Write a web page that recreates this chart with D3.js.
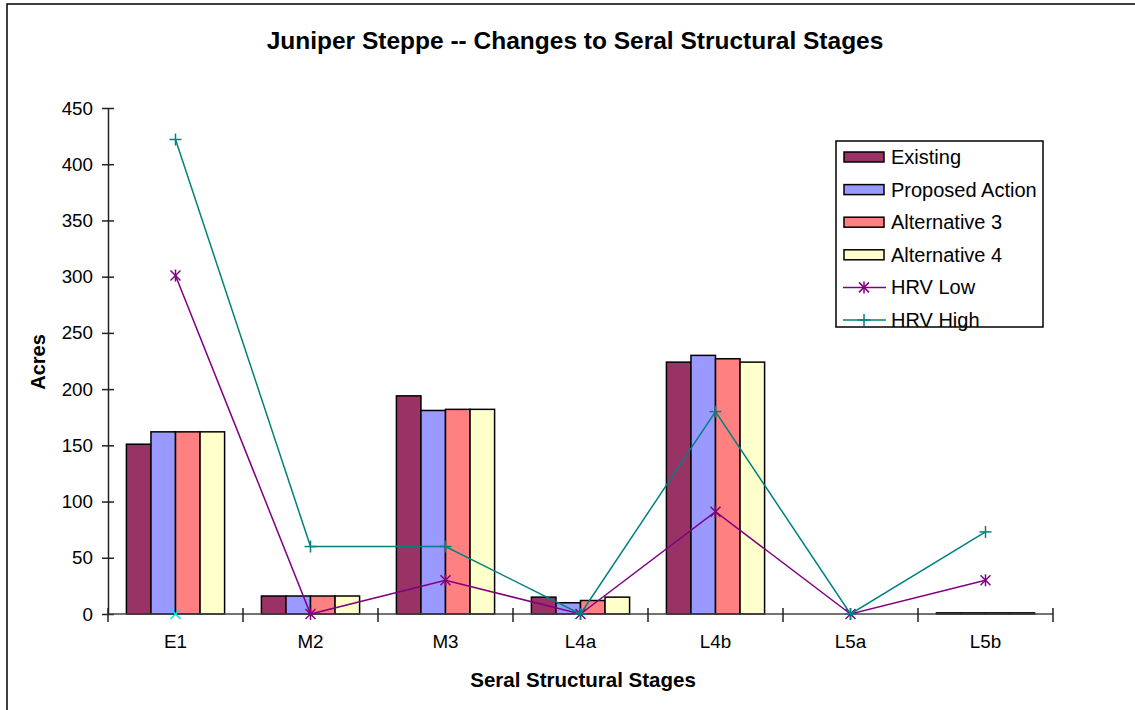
<!DOCTYPE html>
<html><head><meta charset="utf-8">
<script src="https://cdn.jsdelivr.net/npm/d3@7"></script>
<style>body{margin:0;background:#fff;} svg{display:block;font-family:Arial,"Liberation Sans",sans-serif;}</style>
</head><body><svg id="c" width="1135" height="710"></svg>
<script>
const categories = ["E1","M2","M3","L4a","L4b","L5a","L5b"];
const existing = [151,16,194,15,224,0,1];
const proposed = [162,16,181,10,230,0,1];
const alt3 = [162,16,182,12,227,0,1];
const alt4 = [162,16,182,15,224,0,1];
const hrvLow = [301,0,30,0,91,0,30];
const hrvHigh = [422,60,60,0,180,0,73];
const extraMarker = [0,null,null,null,null,null,null];
const yTicks = [0,50,100,150,200,250,300,350,400,450];
const barSeries = [
  {name:"Existing", values:existing, color:"#993366"},
  {name:"Proposed Action", values:proposed, color:"#9999FF"},
  {name:"Alternative 3", values:alt3, color:"#FF8080"},
  {name:"Alternative 4", values:alt4, color:"#FFFFCC"}
];
const lineSeries = [
  {name:"HRV Low", values:hrvLow, color:"#800080", marker:"star"},
  {name:"HRV High", values:hrvHigh, color:"#008080", marker:"plus"}
];

const svg = d3.select("#c");
const L=108, R=1053, T=108, B=614;
const x = d3.scaleBand().domain(categories).range([L,R]).paddingInner(0.2727).paddingOuter(0.13635);
const x0 = d3.scaleBand().domain(categories).range([L,R]);
const xs = d3.scaleBand().domain(barSeries.map(d=>d.name)).range([0,x.bandwidth()]);
const y = d3.scaleLinear().domain([0,450]).range([B,T]);

// outer border
svg.append("rect").attr("x",7).attr("y",4).attr("width",1140).attr("height",720).attr("fill","none").attr("stroke","#000").attr("stroke-width",1.5);

// title
svg.append("text").attr("x",575).attr("y",49).attr("text-anchor","middle").attr("font-weight","bold").attr("font-size",24.5).text("Juniper Steppe -- Changes to Seral Structural Stages");

// bars
barSeries.forEach(s=>{
  svg.append("g").selectAll("rect").data(categories).join("rect")
    .attr("x",(c)=>x(c)+xs(s.name))
    .attr("y",(c,i)=>y(s.values[i]))
    .attr("width",xs.bandwidth())
    .attr("height",(c,i)=>B-y(s.values[i]))
    .attr("fill",s.color).attr("stroke","#000").attr("stroke-width",1.5);
});

// axes
const yAxis = d3.axisLeft(y).tickValues(yTicks).tickSize(0).tickPadding(15);
const gy = svg.append("g").attr("transform",`translate(${L},0)`).call(yAxis);
gy.select(".domain").attr("stroke","#222").attr("stroke-width",1.5);
gy.selectAll("text").attr("font-size",18.8).attr("fill","#000").attr("font-family","Arial, Liberation Sans, sans-serif");
gy.selectAll(".tick").append("line").attr("x1",-6).attr("x2",6).attr("stroke","#222").attr("stroke-width",1.5);

const gx = svg.append("g").attr("transform",`translate(0,${B})`);
gx.append("line").attr("x1",L).attr("x2",R).attr("stroke","#444").attr("stroke-width",1.5);
const bounds = categories.map(c=>x0(c)).concat([R]);
gx.selectAll("line.t").data(bounds).join("line").attr("class","t")
  .attr("x1",d=>d).attr("x2",d=>d).attr("y1",-6).attr("y2",8).attr("stroke","#222").attr("stroke-width",1.5);
gx.selectAll("text").data(categories).join("text")
  .attr("x",c=>x0(c)+x0.bandwidth()/2).attr("y",34).attr("text-anchor","middle").attr("font-size",18.8).text(c=>c);

// lines
const line = d3.line().x((d,i)=>x0(categories[i])+x0.bandwidth()/2).y(d=>y(d));
function marker(g,type,color,cx,cy){
  const m=g.append("g").attr("transform",`translate(${cx},${cy})`).attr("stroke",color).attr("stroke-width",1.5).attr("fill","none");
  if(type==="plus"){
    m.append("line").attr("x1",-6).attr("x2",6);
    m.append("line").attr("y1",-6).attr("y2",6);
  } else if(type==="star"){
    m.append("line").attr("x1",-5).attr("x2",5).attr("y1",-5).attr("y2",5);
    m.append("line").attr("x1",-5).attr("x2",5).attr("y1",5).attr("y2",-5);
    m.append("line").attr("y1",-6).attr("y2",6);
  } else if(type==="x"){
    m.append("line").attr("x1",-5).attr("x2",5).attr("y1",-5).attr("y2",5);
    m.append("line").attr("x1",-5).attr("x2",5).attr("y1",5).attr("y2",-5);
  }
}
lineSeries.forEach(s=>{
  svg.append("path").datum(s.values).attr("d",line).attr("fill","none").attr("stroke",s.color).attr("stroke-width",1.5);
  const g=svg.append("g");
  s.values.forEach((v,i)=>marker(g,s.marker,s.color,x0(categories[i])+x0.bandwidth()/2,y(v)));
});
extraMarker.forEach((v,i)=>{ if(v!==null) marker(svg.append("g"),"x","#00E5E5",x0(categories[i])+x0.bandwidth()/2,y(v)); });

// y label
svg.append("text").attr("transform",`translate(45,362) rotate(-90)`).attr("text-anchor","middle").attr("font-weight","bold").attr("font-size",20).text("Acres");
// x label
svg.append("text").attr("x",583).attr("y",687).attr("text-anchor","middle").attr("font-weight","bold").attr("font-size",20.5).text("Seral Structural Stages");

// legend
const lg = svg.append("g");
lg.append("rect").attr("x",836).attr("y",141).attr("width",207).attr("height",186).attr("fill","#fff").attr("stroke","#000").attr("stroke-width",1.5);
const items = barSeries.map(s=>({name:s.name,color:s.color,type:"bar"})).concat(lineSeries.map(s=>({name:s.name,color:s.color,type:"line",marker:s.marker})));
items.forEach((it,i)=>{
  const cy = 157 + i*32.6;
  if(it.type==="bar"){
    lg.append("rect").attr("x",844).attr("y",cy-5).attr("width",40).attr("height",10).attr("fill",it.color).attr("stroke","#000").attr("stroke-width",1.5);
  } else {
    lg.append("line").attr("x1",843).attr("x2",886).attr("y1",cy).attr("y2",cy).attr("stroke",it.color).attr("stroke-width",1.5);
    marker(lg,it.marker,it.color,864,cy);
  }
  lg.append("text").attr("x",891).attr("y",cy+7).attr("font-size",20).text(it.name);
});
</script></body></html>
